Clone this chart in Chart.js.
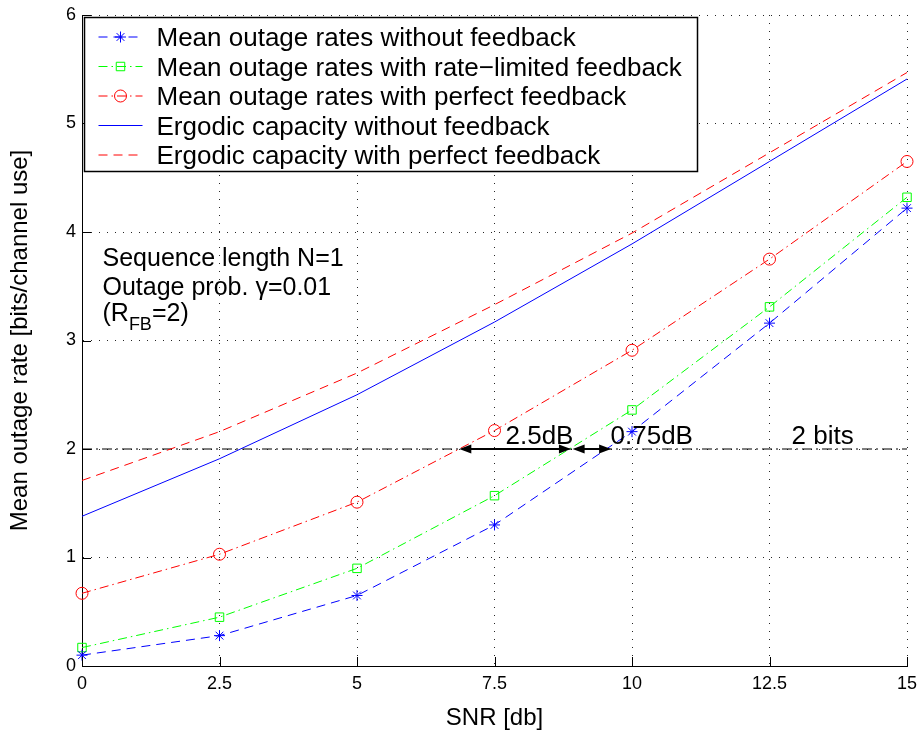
<!DOCTYPE html>
<html><head><meta charset="utf-8">
<script src="https://cdn.jsdelivr.net/npm/chart.js@4.4.0/dist/chart.umd.min.js"></script>
<style>html,body{margin:0;padding:0;background:#fff;}</style>
</head><body>
<canvas id="c" width="920" height="736" style="width:920px;height:736px;display:block"></canvas>
<script>
// ---- data ----
const snr = [0, 2.5, 5, 7.5, 10, 12.5, 15];
const outageNoFb = [0.10, 0.28, 0.65, 1.30, 2.16, 3.16, 4.22];
const outageRateLimited = [0.17, 0.45, 0.90, 1.57, 2.36, 3.31, 4.32];
const outagePerfect = [0.67, 1.03, 1.51, 2.17, 2.91, 3.75, 4.65];
const ergodicNoFb = [1.38, 1.91, 2.50, 3.17, 3.89, 4.65, 5.41];
const ergodicPerfect = [1.71, 2.16, 2.70, 3.33, 3.99, 4.73, 5.47];
const refSnr = [0, 15];
const refLevel = [2, 2];
const xTicks = [0, 2.5, 5, 7.5, 10, 12.5, 15];
const yTicks = [0, 1, 2, 3, 4, 5, 6];
const seriesLabels = [
  'Mean outage rates without feedback',
  'Mean outage rates with rate\u2212limited feedback',
  'Mean outage rates with perfect feedback',
  'Ergodic capacity without feedback',
  'Ergodic capacity with perfect feedback'
];
const gapArrows = [[6.86, 8.89], [8.92, 9.62]];   // SNR spans at 2 bits
const gapValues = [2, 2];
const gapLabels = ['2.5dB', '0.75dB', '2 bits'];
const gapLabelSnr = [7.70, 9.61, 12.9];
const noteLines = ['Sequence length N=1', 'Outage prob. \u03b3=0.01'];
const xTitle = 'SNR [db]';
const yTitle = 'Mean outage rate [bits/channel use]';

// ---- styles ----
const FONT = '"Liberation Sans", Arial, Helvetica, sans-serif';
const BLUE = '#0000ff', GREEN = '#00ff00', RED = '#ff0000';
const pts = (xs, ys) => xs.map((x, i) => ({x: x, y: ys[i]}));

const datasets = [
  {label: seriesLabels[0], data: pts(snr, outageNoFb), borderColor: BLUE, borderDash: [9, 6],
   pointStyle: 'star', pointRadius: 5.5, pointBorderColor: BLUE},
  {label: seriesLabels[1], data: pts(snr, outageRateLimited), borderColor: GREEN, borderDash: [9, 4, 1.5, 4],
   pointStyle: 'rect', pointRadius: 6, pointBorderColor: GREEN},
  {label: seriesLabels[2], data: pts(snr, outagePerfect), borderColor: RED, borderDash: [9, 4, 1.5, 4],
   pointStyle: 'circle', pointRadius: 6, pointBorderColor: RED},
  {label: seriesLabels[3], data: pts(snr, ergodicNoFb), borderColor: BLUE, borderDash: [], pointRadius: 0},
  {label: seriesLabels[4], data: pts(snr, ergodicPerfect), borderColor: RED, borderDash: [9, 6], pointRadius: 0},
  {label: 'ref', data: pts(refSnr, refLevel), borderColor: '#000', borderDash: [10, 4, 2, 4], pointRadius: 0, borderWidth: 1.2}
].map(d => Object.assign({borderWidth: 1, pointBackgroundColor: 'rgba(0,0,0,0)', pointBorderWidth: 1,
  tension: 0, fill: false, clip: false, showLine: true}, d));

function marker(ctx, style, x, y, r, color) {
  ctx.save();
  ctx.strokeStyle = color; ctx.lineWidth = 1; ctx.setLineDash([]);
  ctx.beginPath();
  if (style === 'star') {
    for (let a = 0; a < 4; a++) {
      const t = a * Math.PI / 4;
      ctx.moveTo(x - r * Math.cos(t), y - r * Math.sin(t));
      ctx.lineTo(x + r * Math.cos(t), y + r * Math.sin(t));
    }
  } else if (style === 'rect') {
    const s = Math.SQRT1_2 * r;
    ctx.rect(x - s, y - s, 2 * s, 2 * s);
  } else if (style === 'circle') {
    ctx.arc(x, y, r, 0, Math.PI * 2);
  }
  ctx.stroke();
  ctx.restore();
}

const decor = {
  id: 'decor',
  afterDraw(chart) {
    const ctx = chart.ctx, xs = chart.scales.x, ys = chart.scales.y, ca = chart.chartArea;
    ctx.save();
    // inward major ticks
    ctx.strokeStyle = '#000'; ctx.lineWidth = 1; ctx.setLineDash([]);
    ctx.beginPath();
    xTicks.forEach(v => { const px = Math.round(xs.getPixelForValue(v)) + 0.5; ctx.moveTo(px, ca.bottom); ctx.lineTo(px, ca.bottom - 9); });
    yTicks.forEach(v => { const py = Math.round(ys.getPixelForValue(v)) + 0.5; ctx.moveTo(ca.left, py); ctx.lineTo(ca.left + 9, py); });
    ctx.stroke();

    // arrows at 2 bits
    ctx.fillStyle = '#000'; ctx.lineWidth = 2;
    gapArrows.forEach((span, i) => {
      const x1 = xs.getPixelForValue(span[0]), x2 = xs.getPixelForValue(span[1]);
      const y = ys.getPixelForValue(gapValues[i]);
      const hl = 12, hw = 4.5;
      ctx.beginPath(); ctx.moveTo(x1 + hl - 1, y); ctx.lineTo(x2 - hl + 1, y); ctx.stroke();
      ctx.beginPath(); ctx.moveTo(x1, y); ctx.lineTo(x1 + hl, y - hw); ctx.lineTo(x1 + hl, y + hw); ctx.closePath(); ctx.fill();
      ctx.beginPath(); ctx.moveTo(x2, y); ctx.lineTo(x2 - hl, y - hw); ctx.lineTo(x2 - hl, y + hw); ctx.closePath(); ctx.fill();
    });
    ctx.font = '26px ' + FONT; ctx.textBaseline = 'alphabetic'; ctx.textAlign = 'left';
    gapLabels.forEach((t, i) => {
      ctx.fillText(t, xs.getPixelForValue(gapLabelSnr[i]), ys.getPixelForValue(2) - 5);
    });

    // note text block
    ctx.font = '25px ' + FONT;
    const nx = ca.left + 20.5;
    ctx.fillText(noteLines[0], nx, ca.top + 251);
    ctx.fillText(noteLines[1], nx, ca.top + 279.5);
    let cx = nx, by = ca.top + 306;
    ctx.fillText('(R', cx, by); cx += ctx.measureText('(R').width;
    ctx.font = '18px ' + FONT; ctx.fillText('FB', cx, by + 9); cx += ctx.measureText('FB').width;
    ctx.font = '25px ' + FONT; ctx.fillText('=2)', cx, by);

    // legend box
    const lx = ca.left + 2.5, ly = ca.top + 2.5, lw = 613, lh = 154;
    ctx.fillStyle = '#fff'; ctx.fillRect(lx, ly, lw, lh);
    ctx.strokeStyle = '#000'; ctx.lineWidth = 1.5; ctx.strokeRect(lx, ly, lw, lh);
    ctx.fillStyle = '#000';
    for (let i = 0; i < 5; i++) {
      const d = chart.data.datasets[i];
      const by2 = ly + 28.5 + i * 29.5;
      const cy = by2 - 9;
      ctx.save();
      ctx.strokeStyle = d.borderColor; ctx.lineWidth = 1; ctx.setLineDash(d.borderDash || []);
      ctx.beginPath(); ctx.moveTo(lx + 14, cy); ctx.lineTo(lx + 58, cy); ctx.stroke();
      ctx.restore();
      if (d.pointRadius > 0) marker(ctx, d.pointStyle, lx + 36, cy, d.pointRadius, d.pointBorderColor);
      ctx.font = '26px ' + FONT; ctx.fillStyle = '#000';
      ctx.fillText(d.label, lx + 72, by2);
    }
    ctx.restore();
  }
};

new Chart(document.getElementById('c'), {
  type: 'scatter',
  data: {datasets: datasets},
  options: {
    responsive: false, animation: false, devicePixelRatio: 1,
    layout: {padding: {left: 0, right: 13, top: 15, bottom: 0}},
    plugins: {legend: {display: false}, tooltip: {enabled: false}},
    scales: {
      x: {
        type: 'linear', min: 0, max: 15,
        afterBuildTicks: s => { s.ticks = xTicks.map(v => ({value: v})); },
        afterFit: s => { s.height = 70; s.paddingLeft = 0; s.paddingRight = 0; },
        ticks: {color: '#000', padding: 7, font: {family: FONT, size: 18}, maxRotation: 0, autoSkip: false},
        grid: {color: 'rgba(0,0,0,0.85)', lineWidth: 1, drawTicks: false},
        border: {display: true, color: '#000', width: 1, dash: [1, 7]},
        title: {display: true, text: xTitle, color: '#000', font: {family: FONT, size: 24}, padding: {top: 3.5, bottom: 3.5}}
      },
      y: {
        type: 'linear', min: 0, max: 6,
        afterBuildTicks: s => { s.ticks = yTicks.map(v => ({value: v})); },
        afterFit: s => { s.width = 82; s.paddingTop = 0; s.paddingBottom = 0; },
        ticks: {color: '#000', padding: 6, font: {family: FONT, size: 18}},
        grid: {color: 'rgba(0,0,0,0.85)', lineWidth: 1, drawTicks: false},
        border: {display: true, color: '#000', width: 1, dash: [1, 7]},
        title: {display: true, text: yTitle, color: '#000', font: {family: FONT, size: 24}, padding: {top: 6, bottom: 6}}
      }
    }
  },
  plugins: [decor]
});
</script>
</body></html>
